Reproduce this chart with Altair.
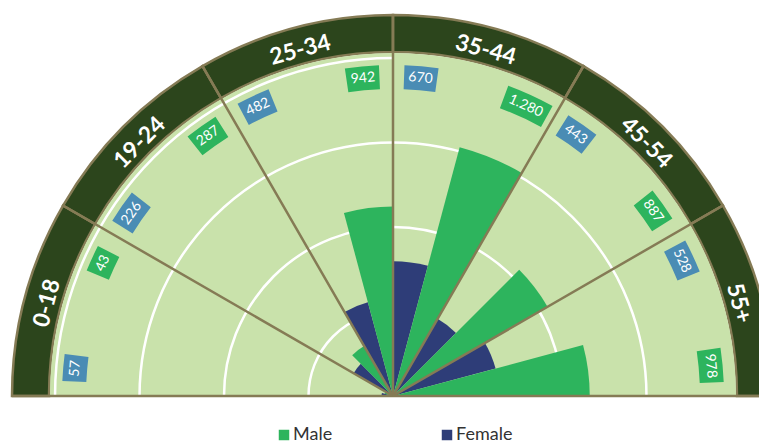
import math
import pandas as pd
import altair as alt

# ---- data ----
age_groups = ["0-18", "19-24", "25-34", "35-44", "45-54", "55+"]
female = [57, 226, 482, 670, 443, 528]
male = [43, 287, 942, 1280, 887, 978]
ring_values = [420, 840, 1260, 1680]
ring_end_slot = [12, 12, 12, 6]

# ---- styling ----
GREEN = "#2db45d"
NAVY = "#2e3d78"
BLUE = "#4a8cb4"
DARK = "#2c451c"
OLIVE = "#857b55"
LIGHT = "#c9e2ab"
FONT = "Lato"
CX, CY = 385, 388
SLOT_RAD = math.pi / 12  # each of the 12 slots is 15 degrees
LABEL_R = 319
LABEL_FRAC = {"Female": 0.33, "Male": 0.64}  # where the value tag sits inside its slot

# ---- tables built from the arrays ----
rows = []
for i, g in enumerate(age_groups):
    for k, (gender, v) in enumerate([("Female", female[i]), ("Male", male[i])]):
        slot = 2 * i + k
        label = f"{v:,}".replace(",", ".")
        lp = slot + LABEL_FRAC[gender]
        hw = (3.5 * len(label) + 6) / LABEL_R / SLOT_RAD
        ang = -90 + lp * 15
        rows.append(dict(group=g, gender=gender, value=v, s0=slot, s1=slot + 1,
                         mid=lp, b0=lp - hw, b1=lp + hw,
                         label=label, ang=(ang + 360) % 360))
wedges = pd.DataFrame(rows)

sectors = pd.DataFrame(dict(
    group=age_groups,
    t0=[2 * i for i in range(len(age_groups))],
    t1=[2 * i + 2 for i in range(len(age_groups))],
    mid=[2 * i + 1 for i in range(len(age_groups))],
    ang=[((-90 + (2 * i + 1) * 15) + 360) % 360 for i in range(len(age_groups))],
))
disc = pd.DataFrame(dict(t0=[0], t1=[12]))
rings = pd.DataFrame(dict(r=ring_values, t0=[0] * len(ring_values), t1=ring_end_slot))
spokes = pd.DataFrame(dict(t=[2 * i for i in range(len(age_groups) + 1)]))

theta_scale = alt.Scale(domain=[0, 12], range=[-math.pi / 2, math.pi / 2])
r_scale = alt.Scale(type="linear", domain=[0, 1700], range=[0, 342])


def T(f):
    return alt.Theta(f, type="quantitative", scale=theta_scale, stack=None)


pos = dict(x=alt.value(CX), y=alt.value(CY))

band = alt.Chart(sectors).mark_arc(fill=DARK, stroke=OLIVE, strokeWidth=2.5).encode(
    theta=T("t0"), theta2=alt.Theta2("t1"),
    radius=alt.value(381), radius2=alt.value(344), **pos)

disc_l = alt.Chart(disc).mark_arc(fill=LIGHT).encode(
    theta=T("t0"), theta2=alt.Theta2("t1"),
    radius=alt.value(343), radius2=alt.value(0), **pos)

ring_l = alt.Chart(rings).mark_arc(filled=False, stroke="white", strokeWidth=2.5).encode(
    theta=T("t0"), theta2=alt.Theta2("t1"),
    radius=alt.Radius("r:Q", scale=r_scale), radius2=alt.Radius2("r"), **pos)

wedge_l = alt.Chart(wedges).mark_arc().encode(
    theta=T("s0"), theta2=alt.Theta2("s1"),
    radius=alt.Radius("value:Q", scale=r_scale), radius2=alt.value(0),
    color=alt.Color("gender:N",
                    scale=alt.Scale(domain=["Male", "Female"], range=[GREEN, NAVY]),
                    legend=alt.Legend(title=None, orient="none", direction="horizontal",
                                      legendX=267, legendY=418, symbolType="square",
                                      symbolSize=110, symbolStrokeWidth=0,
                                      labelFont=FONT, labelFontSize=18, labelColor="#333333",
                                      labelOffset=0, columnPadding=105, padding=0)),
    **pos)

spoke_l = alt.Chart(spokes).mark_arc(filled=False, stroke=OLIVE, strokeWidth=2.5).encode(
    theta=T("t"), theta2=alt.Theta2("t"),
    radius=alt.value(381), radius2=alt.value(0), **pos)

box_l = alt.Chart(wedges).mark_arc().encode(
    theta=T("b0"), theta2=alt.Theta2("b1"),
    radius=alt.value(LABEL_R + 12), radius2=alt.value(LABEL_R - 12),
    fill=alt.Fill("gender:N", scale=alt.Scale(domain=["Male", "Female"], range=[GREEN, BLUE]),
                  legend=None),
    **pos)

box_text = alt.Chart(wedges).mark_text(color="white", font=FONT, fontSize=14,
                                        align="center", baseline="middle").encode(
    theta=T("mid"), radius=alt.value(LABEL_R),
    angle=alt.Angle("ang:Q", scale=None), text="label:N", **pos)

sector_text = alt.Chart(sectors).mark_text(color="white", font=FONT, fontSize=23,
                                           fontWeight="bold", align="center",
                                           baseline="middle").encode(
    theta=T("mid"), radius=alt.value(358),
    angle=alt.Angle("ang:Q", scale=None), text="group:N", **pos)

chart = alt.layer(band, disc_l, ring_l, wedge_l, spoke_l, box_l, box_text, sector_text).properties(
    width=751, height=438, padding=0, autosize="none"
).configure_view(strokeWidth=0)

chart.save("out.html", embed_options={"renderer": "svg", "actions": False})
